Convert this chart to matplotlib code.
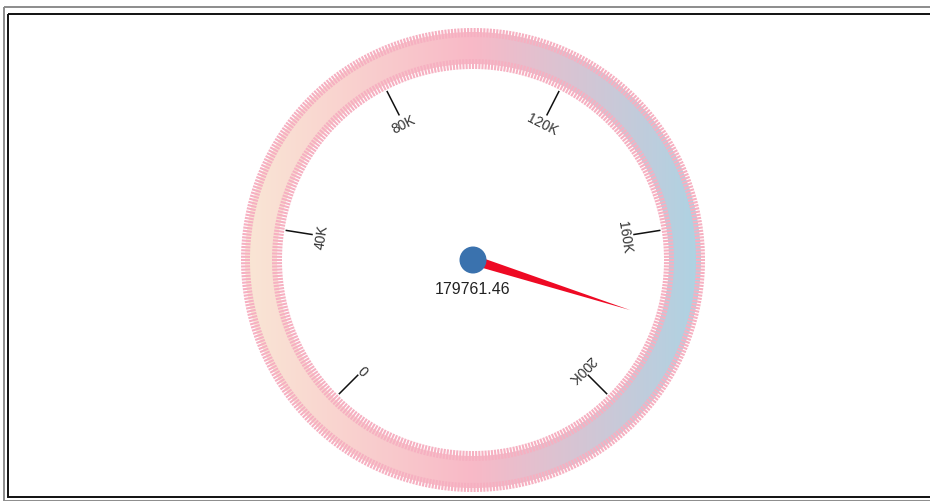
import numpy as np
import matplotlib
matplotlib.use("Agg")
import matplotlib.pyplot as plt
from matplotlib.patches import Annulus, Circle, Polygon, Rectangle
from matplotlib.colors import LinearSegmentedColormap
from matplotlib.collections import LineCollection

plt.rcParams['font.family'] = ['Liberation Sans', 'DejaVu Sans']

# gauge data
val_min = 0
val_max = 200000
tick_values = [0, 40000, 80000, 120000, 160000, 200000]
tick_labels = ['0', '40K', '80K', '120K', '160K', '200K']
value = 179761.46
value_label = '179761.46'

# gauge geometry (pixels)
cx, cy = 473, 261
ang_start, ang_end = 225.0, -45.0
ring_out, ring_in = 228, 196
ring_colors = ['#FAE6D5', '#F8B9C7', '#ADD3E3']
dash_col = '#F6B0C1'


def ang(v):
    return ang_start + (ang_end - ang_start) * (v - val_min) / (val_max - val_min)


def pt(theta, r):
    t = np.radians(theta)
    return cx + r * np.cos(t), cy - r * np.sin(t)


fig = plt.figure(figsize=(9.3, 5.02), dpi=100)
ax = fig.add_axes([0, 0, 1, 1])
ax.set_xlim(0, 930)
ax.set_ylim(502, 0)
ax.axis('off')

# page frames
ax.add_patch(Rectangle((3.5, 7.5), 1000, 494, fill=False, ec='#8c8c8c', lw=1.4))
ax.add_patch(Rectangle((8, 15), 1000, 483, fill=False, ec='#111111', lw=1.4))

# gradient band
ann = Annulus((cx, cy), ring_out, ring_out - ring_in, fc='none', ec='none')
ax.add_patch(ann)
cmap = LinearSegmentedColormap.from_list('ring', ring_colors)
grad = np.linspace(0, 1, 256).reshape(1, -1)
im = ax.imshow(grad, cmap=cmap, extent=(cx - ring_out, cx + ring_out, cy + ring_out, cy - ring_out),
               aspect='auto', interpolation='bilinear', zorder=1)
im.set_clip_path(ann)

# comb edges of the band
segs = []
for r0, r1 in [(223, 232), (191, 201)]:
    n = int(2 * np.pi * (r0 + r1) / 2 / 3.2)
    for th in np.linspace(0, 360, n, endpoint=False):
        segs.append([pt(th, r0), pt(th, r1)])
ax.add_collection(LineCollection(segs, colors=dash_col, linewidths=1.5, zorder=2))

# ticks and labels
for v, lab in zip(tick_values, tick_labels):
    a = ang(v)
    p0, p1 = pt(a, 163), pt(a, 189)
    ax.plot([p0[0], p1[0]], [p0[1], p1[1]], color='#111111', lw=1.1, zorder=3)
    lx, ly = pt(a, 153)
    ax.text(lx, ly, lab, rotation=a - 90, rotation_mode='anchor', ha='center', va='center',
            fontsize=10, color='#333333', zorder=3)

# needle
a = ang(value)
tip = pt(a, 165)
b1 = pt(a + 90, 5)
b2 = pt(a - 90, 5)
ax.add_patch(Polygon([b1, tip, b2], closed=True, fc='#EE0A24', ec='none', zorder=4))
ax.add_patch(Circle((cx, cy), 13.5, fc='#3A72AE', ec='none', zorder=5))
ax.text(cx, cy + 29, value_label, ha='center', va='center', fontsize=11.5, color='#222222', zorder=5)

fig.savefig('out.png', dpi=100)
